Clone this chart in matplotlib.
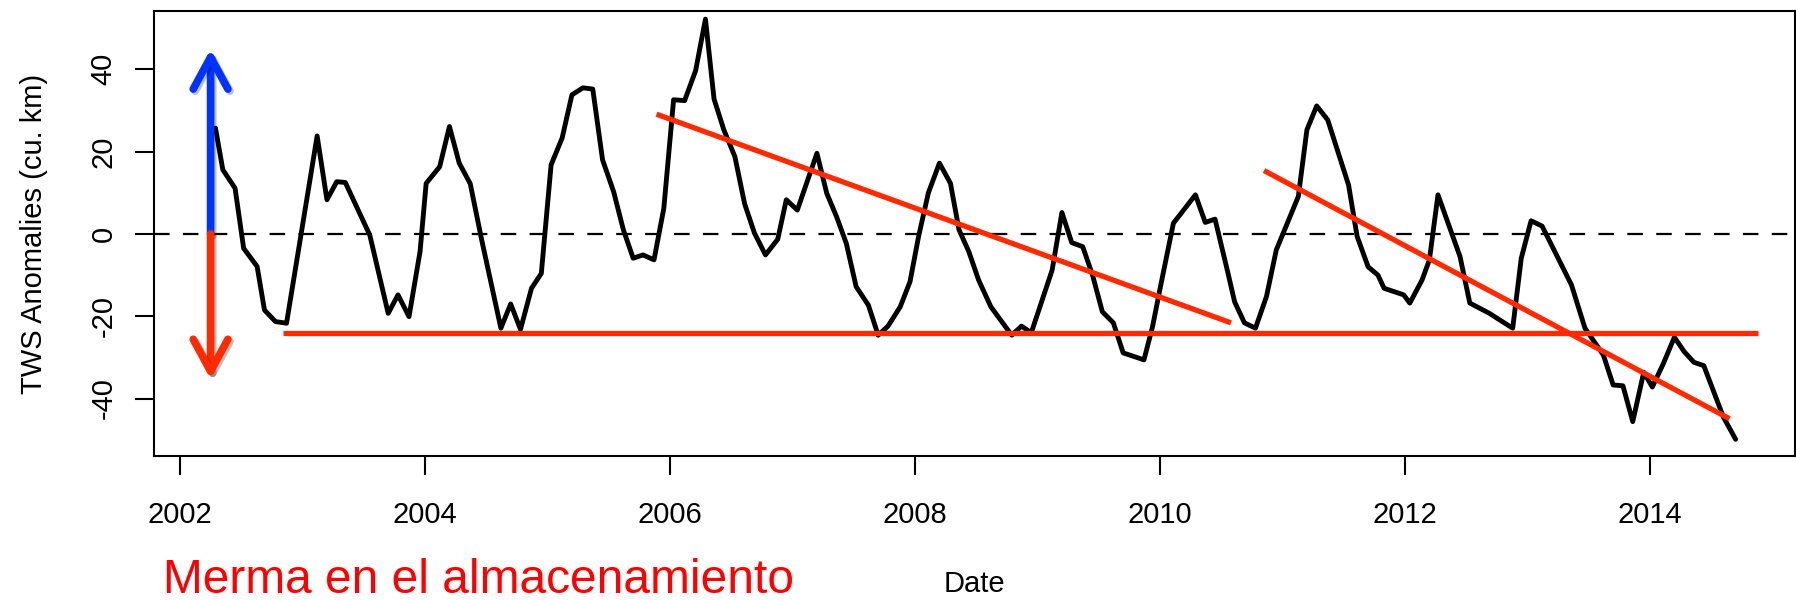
import matplotlib
matplotlib.use("Agg")
import matplotlib.pyplot as plt
import matplotlib.patheffects as pe

plt.rcParams['font.family'] = ['Liberation Sans', 'DejaVu Sans']
plt.rcParams['axes.unicode_minus'] = False

# Serie TWS (fecha decimal, anomalía en km3)
fechas = [2002.29, 2002.35, 2002.45, 2002.52, 2002.63, 2002.69, 2002.78, 2002.87,
          2003.12, 2003.20, 2003.28, 2003.35, 2003.55, 2003.70, 2003.78, 2003.87,
          2003.96, 2004.01, 2004.12, 2004.20, 2004.28, 2004.37, 2004.46, 2004.62,
          2004.70, 2004.78, 2004.87, 2004.95, 2005.03, 2005.12, 2005.20, 2005.29,
          2005.37, 2005.45, 2005.54, 2005.62, 2005.70, 2005.78, 2005.87, 2005.95,
          2006.03, 2006.12, 2006.21, 2006.29, 2006.36, 2006.44, 2006.53, 2006.61,
          2006.69, 2006.78, 2006.88, 2006.95, 2007.04, 2007.20, 2007.28, 2007.36,
          2007.44, 2007.52, 2007.62, 2007.70, 2007.78, 2007.88, 2007.96, 2008.03,
          2008.11, 2008.20, 2008.29, 2008.36, 2008.44, 2008.52, 2008.62, 2008.79,
          2008.87, 2008.95, 2009.12, 2009.20, 2009.28, 2009.37, 2009.45, 2009.53,
          2009.62, 2009.70, 2009.87, 2009.94, 2010.01, 2010.11, 2010.29, 2010.37,
          2010.45, 2010.55, 2010.61, 2010.69, 2010.78, 2010.87, 2010.95, 2011.13,
          2011.20, 2011.28, 2011.37, 2011.54, 2011.61, 2011.70, 2011.78, 2011.83,
          2011.99, 2012.04, 2012.14, 2012.20, 2012.27, 2012.45, 2012.53, 2012.69,
          2012.88, 2012.95, 2013.03, 2013.12, 2013.36, 2013.47, 2013.62, 2013.70,
          2013.78, 2013.86, 2013.95, 2014.02, 2014.11, 2014.20, 2014.28, 2014.36,
          2014.44, 2014.60, 2014.70]
tws = [25.7, 15.6, 11.1, -3.5, -7.9, -18.5, -21.3, -21.7,
       23.8, 8.3, 12.7, 12.5, -0.3, -19.3, -14.8, -20.1,
       -4.3, 12.3, 16.3, 26.1, 17.2, 12.2, -1.0, -22.9,
       -17.0, -23.2, -13.2, -9.6, 16.8, 23.3, 33.8, 35.5,
       35.2, 18.0, 10.3, 1.0, -5.9, -5.1, -6.3, 6.2,
       32.6, 32.4, 39.7, 52.2, 32.8, 25.3, 18.8, 7.3,
       0.2, -5.1, -1.3, 8.3, 5.8, 19.6, 9.9, 4.2,
       -2.3, -12.8, -17.3, -24.6, -22.4, -17.7, -11.6, -0.6,
       10.0, 17.2, 12.3, 1.0, -4.3, -11.2, -17.7, -24.6,
       -22.4, -24.0, -8.8, 5.2, -2.1, -3.1, -10.0, -18.9,
       -21.6, -28.9, -30.6, -22.5, -12.0, 2.6, 9.5, 2.8,
       3.6, -8.8, -16.5, -21.6, -22.9, -15.2, -3.9, 9.1,
       25.3, 31.1, 27.7, 11.9, -0.6, -8.0, -10.0, -13.2,
       -14.8, -16.8, -11.2, -6.3, 9.5, -5.5, -16.8, -19.3,
       -22.9, -5.9, 3.2, 1.9, -12.4, -22.9, -29.4, -36.7,
       -36.9, -45.6, -33.6, -37.2, -31.5, -25.1, -28.6, -31.2,
       -32.0, -44.5, -49.9]

# Líneas rojas (nivel mínimo y tendencias)
nivel_x = [2002.84, 2014.88]
nivel_y = [-24.0, -24.0]
tend1_x = [2005.89, 2010.58]
tend1_y = [29.1, -21.6]
tend2_x = [2010.85, 2014.65]
tend2_y = [15.4, -44.9]

# Flechas
flecha_x = 2002.25
flecha_arriba = 44.9
flecha_abajo = -35.3

xticks = [2002, 2004, 2006, 2008, 2010, 2012, 2014]
yticks = [-40, -20, 0, 20, 40]

rojo = '#ff2a00'
azul = '#0033ff'

fig = plt.figure(figsize=(17.96, 6.0), dpi=100)
ax = fig.add_axes([0.0856, 0.2397, 0.9138, 0.7415])

ax.axhline(0, color='black', lw=1.6, dashes=(7, 6))
ax.plot(fechas, tws, color='black', lw=3.5, solid_joinstyle='round',
        solid_capstyle='round', zorder=3)
ax.plot(nivel_x, nivel_y, color=rojo, lw=3.8, solid_capstyle='butt', zorder=4)
ax.plot(tend1_x, tend1_y, color=rojo, lw=3.8, solid_capstyle='butt', zorder=4)
ax.plot(tend2_x, tend2_y, color=rojo, lw=3.8, solid_capstyle='butt', zorder=4)

sombra = [pe.SimpleLineShadow(offset=(1.5, -1.5), alpha=0.25), pe.Normal()]
for tope, col in [(flecha_arriba, azul), (flecha_abajo, rojo)]:
    ax.annotate('', xy=(flecha_x, tope), xytext=(flecha_x, 0),
                arrowprops=dict(arrowstyle='->,head_length=2.3,head_width=1.25',
                                lw=5.5, color=col, shrinkA=0, shrinkB=0,
                                mutation_scale=10, capstyle='round',
                                joinstyle='round', path_effects=sombra),
                zorder=5)

ax.set_xlim(2001.786, 2015.184)
ax.set_ylim(-54.0, 54.1)
ax.set_xticks(xticks)
ax.set_yticks(yticks)
ax.tick_params(axis='both', length=14, width=1.5, labelsize=21, direction='out')
ax.tick_params(axis='x', pad=18)
ax.tick_params(axis='y', pad=12)
for lab in ax.get_yticklabels():
    lab.set_rotation(90)
    lab.set_va('center')
for sp in ax.spines.values():
    sp.set_linewidth(1.5)

ax.set_ylabel('TWS Anomalies (cu. km)', fontsize=21, labelpad=30)
fig.text(0.5425, 1 - 592 / 600, 'Date', fontsize=21, ha='center', va='baseline')
fig.text(163 / 1796, 1 - 593 / 600, 'Merma en el almacenamiento', fontsize=34.5,
         color='#ff0000', ha='left', va='baseline')

fig.savefig('out.png', dpi=100)
